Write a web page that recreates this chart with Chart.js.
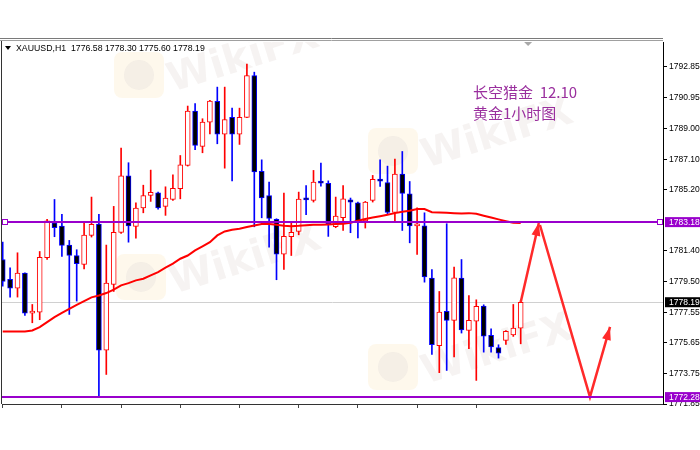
<!DOCTYPE html>
<html>
<head>
<meta charset="utf-8">
<script src="https://cdn.jsdelivr.net/npm/chart.js@4.4.0/dist/chart.umd.min.js"></script>
<style>
  html, body { margin: 0; padding: 0; background: #fff; }
  canvas { display: block; }
</style>
</head>
<body>
<canvas id="chart" width="700" height="450"></canvas>
<script>
// XAUUSD H1 candles (oldest first)
const opens = [1780.85, 1779.61, 1779.07, 1780.00, 1777.51, 1777.57, 1780.96, 1783.14, 1782.93, 1781.75,
  1781.10, 1780.54, 1782.35, 1783.06, 1775.21, 1779.30, 1782.54, 1786.07, 1782.91, 1784.07,
  1784.84, 1785.01, 1784.16, 1784.59, 1785.26, 1786.71, 1790.09, 1787.89, 1789.41, 1790.70,
  1788.66, 1789.70, 1788.66, 1789.70, 1792.31, 1786.34, 1784.84, 1783.35, 1781.19, 1782.27,
  1782.60, 1784.63, 1784.53, 1785.67, 1785.59, 1782.89, 1783.45, 1784.57, 1784.38, 1783.26,
  1784.53, 1785.84, 1785.65, 1783.78, 1786.17, 1784.94, 1782.95, 1782.95, 1779.69, 1775.48,
  1777.62, 1777.06, 1779.69, 1776.43, 1777.01, 1777.95, 1776.12, 1775.37, 1775.81, 1776.16,
  1776.58];
const highs = [1781.93, 1780.34, 1781.27, 1780.02, 1778.05, 1781.35, 1783.35, 1784.59, 1783.66, 1782.04,
  1781.46, 1783.14, 1784.74, 1783.66, 1781.75, 1784.16, 1787.79, 1786.88, 1784.38, 1785.48,
  1786.42, 1785.05, 1785.38, 1786.13, 1787.33, 1790.41, 1790.57, 1789.62, 1790.76, 1791.59,
  1791.59, 1790.28, 1790.28, 1793.02, 1792.52, 1787.06, 1785.67, 1783.39, 1784.99, 1783.14,
  1785.05, 1785.46, 1786.40, 1786.86, 1785.75, 1784.74, 1785.46, 1784.68, 1784.43, 1784.47,
  1786.09, 1787.06, 1786.67, 1787.10, 1787.58, 1785.71, 1784.07, 1783.76, 1780.23, 1778.86,
  1783.08, 1780.38, 1780.85, 1778.61, 1778.34, 1778.03, 1776.54, 1775.54, 1776.43, 1778.05,
  1778.30];
const lows = [1779.19, 1778.51, 1778.51, 1777.37, 1776.91, 1777.10, 1780.85, 1782.27, 1781.04, 1777.43,
  1778.26, 1780.27, 1782.25, 1772.32, 1773.69, 1778.86, 1782.47, 1781.93, 1782.18, 1783.76,
  1784.47, 1783.99, 1783.60, 1784.53, 1784.63, 1786.67, 1787.70, 1787.50, 1788.68, 1788.06,
  1786.54, 1785.75, 1788.02, 1789.68, 1782.89, 1783.45, 1781.62, 1779.59, 1780.23, 1781.10,
  1782.39, 1783.64, 1784.43, 1785.42, 1782.29, 1782.83, 1782.66, 1782.52, 1782.20, 1782.81,
  1784.43, 1785.40, 1783.66, 1783.18, 1782.66, 1781.89, 1781.17, 1779.44, 1774.94, 1773.80,
  1773.94, 1774.79, 1776.27, 1775.29, 1773.32, 1775.08, 1775.08, 1774.71, 1775.56, 1776.06,
  1775.60];
const closes = [1779.48, 1779.07, 1780.00, 1777.51, 1777.59, 1780.98, 1783.26, 1782.83, 1781.73, 1781.10,
  1780.59, 1782.37, 1783.04, 1775.21, 1779.38, 1782.54, 1786.07, 1782.95, 1784.05, 1784.84,
  1785.03, 1784.07, 1784.68, 1785.28, 1786.75, 1790.09, 1787.95, 1789.41, 1790.72, 1788.66,
  1789.57, 1788.66, 1789.70, 1792.31, 1786.30, 1784.68, 1783.41, 1781.19, 1782.29, 1782.54,
  1784.61, 1784.57, 1785.67, 1785.61, 1783.08, 1783.55, 1784.63, 1784.43, 1783.26, 1784.43,
  1785.84, 1785.73, 1783.78, 1786.17, 1784.96, 1782.95, 1783.01, 1779.76, 1775.54, 1777.57,
  1777.06, 1779.71, 1776.47, 1777.06, 1777.93, 1776.08, 1775.40, 1775.02, 1776.37, 1776.58,
  1778.19];
// red moving average, as drawn
const maValues = [1776.37, 1776.37, 1776.37, 1776.37, 1776.43, 1776.64, 1776.95, 1777.26, 1777.53, 1777.78,
  1778.03, 1778.26, 1778.49, 1778.61, 1778.76, 1778.97, 1779.24, 1779.38, 1779.55, 1779.65,
  1779.86, 1780.07, 1780.34, 1780.59, 1780.90, 1781.10, 1781.42, 1781.67, 1781.93, 1782.35,
  1782.60, 1782.70, 1782.77, 1782.87, 1782.97, 1783.06, 1783.06, 1783.01, 1782.95, 1782.93,
  1782.95, 1782.99, 1783.01, 1783.01, 1783.03, 1783.06, 1783.08, 1783.14, 1783.26, 1783.37,
  1783.47, 1783.55, 1783.64, 1783.74, 1783.82, 1783.89, 1783.99, 1783.99, 1783.80, 1783.78,
  1783.76, 1783.74, 1783.72, 1783.74, 1783.70, 1783.58, 1783.47, 1783.35, 1783.24, 1783.14,
  1783.12];

const yTickValues = [1792.85, 1790.95, 1789.00, 1787.10, 1785.20, 1781.40, 1779.50, 1777.55, 1775.65, 1773.75, 1771.85];
const xTickBars = [1, 9, 17, 25, 33, 41, 49, 57, 65];
const levelPrices = [1783.18, 1772.28];
const bidPrice = 1778.19;
// hand drawn forecast arrows (bar index, price)
const arrowUpX = [71.0, 73.45];
const arrowUpY = [1778.19, 1783.13];
const arrowDownX = [73.6, 80.36, 83.07];
const arrowDownY = [1783.0, 1772.29, 1776.65];

const titleText = 'XAUUSD,H1  1776.58 1778.30 1775.60 1778.19';
const noteLines = ['长空猎金  12.10', '黄金1小时图'];

const bars = opens.map((_, i) => i + 1);
const isBull = opens.map((o, i) => closes[i] >= o);
const RED = '#ff0000', BLUE = '#0000ff', VIOLET = '#9900cc';
const axisFont = { family: 'Liberation Sans, Arial, sans-serif', size: 8.5 };

function drawArrowHead(ctx, x0, y0, x1, y1, len, half) {
  const a = Math.atan2(y1 - y0, x1 - x0);
  ctx.beginPath();
  ctx.moveTo(x1, y1);
  ctx.lineTo(x1 - len * Math.cos(a) + half * Math.sin(a), y1 - len * Math.sin(a) - half * Math.cos(a));
  ctx.lineTo(x1 - len * Math.cos(a) - half * Math.sin(a), y1 - len * Math.sin(a) + half * Math.cos(a));
  ctx.closePath();
  ctx.fill();
}

function watermark(ctx, lx, ly) {
  ctx.save();
  ctx.fillStyle = 'rgba(250, 225, 170, 0.22)';
  ctx.beginPath();
  ctx.roundRect(lx, ly, 50, 46, 8);
  ctx.fill();
  ctx.fillStyle = 'rgba(200, 195, 200, 0.18)';
  ctx.beginPath();
  ctx.arc(lx + 25, ly + 23, 15, 0, Math.PI * 2);
  ctx.fill();
  ctx.translate(lx + 58, ly + 40);
  ctx.rotate(-0.3);
  ctx.font = 'bold 40px "DejaVu Sans", sans-serif';
  ctx.fillStyle = 'rgba(215, 200, 195, 0.22)';
  ctx.fillText('WikiFX', 0, 0);
  ctx.restore();
}

const extras = {
  id: 'extras',
  beforeDatasetsDraw(chart) {
    const { ctx, chartArea: a, scales: { x, y } } = chart;
    ctx.save();
    ctx.beginPath();
    ctx.rect(a.left, a.top, a.right - a.left, a.bottom - a.top);
    ctx.clip();
    watermark(ctx, 114, 52);
    watermark(ctx, 368, 128);
    watermark(ctx, 116, 254);
    watermark(ctx, 368, 344);
    // bid line
    const by = Math.round(y.getPixelForValue(bidPrice)) + 0.5;
    ctx.strokeStyle = '#d0d0d0';
    ctx.lineWidth = 1;
    ctx.beginPath();
    ctx.moveTo(a.left, by);
    ctx.lineTo(a.right, by);
    ctx.stroke();
    ctx.restore();
  },
  afterDatasetsDraw(chart) {
    const { ctx, chartArea: a, scales: { x, y } } = chart;
    ctx.save();
    // horizontal levels
    ctx.strokeStyle = VIOLET;
    ctx.lineWidth = 2;
    levelPrices.forEach((p) => {
      const py = Math.round(y.getPixelForValue(p));
      ctx.beginPath();
      ctx.moveTo(a.left, py);
      ctx.lineTo(a.right, py);
      ctx.stroke();
    });
    // selection squares on first level
    const sy = Math.round(y.getPixelForValue(levelPrices[0]));
    ctx.lineWidth = 1;
    ctx.fillStyle = '#fff';
    [a.left + 3, a.right - 3].forEach((sx) => {
      ctx.fillRect(sx - 2.5, sy - 2.5, 5, 5);
      ctx.strokeRect(sx - 2.5, sy - 2.5, 5, 5);
    });
    // arrow heads
    ctx.fillStyle = '#ff2a2a';
    const up = [arrowUpX, arrowUpY], dn = [arrowDownX, arrowDownY];
    [up, dn].forEach(([xs, ys]) => {
      const n = xs.length;
      drawArrowHead(ctx,
        x.getPixelForValue(xs[n - 2]), y.getPixelForValue(ys[n - 2]),
        x.getPixelForValue(xs[n - 1]), y.getPixelForValue(ys[n - 1]), 13, 4.5);
    });
    // text note
    ctx.fillStyle = '#9a2f9e';
    ctx.font = '15px "Noto Sans CJK SC", sans-serif';
    ctx.textBaseline = 'middle';
    ctx.fillText(noteLines[0], 473, 92);
    ctx.fillText(noteLines[1], 473, 113);
    ctx.restore();
  },
  afterDraw(chart) {
    const { ctx, chartArea: a, scales: { x, y } } = chart;
    ctx.save();
    // frame
    ctx.lineWidth = 1;
    ctx.strokeStyle = '#7a7a7a';
    ctx.beginPath();
    ctx.moveTo(0, a.top - 3.5); ctx.lineTo(a.right, a.top - 3.5);
    ctx.stroke();
    ctx.strokeStyle = '#a0a0a0';
    ctx.beginPath();
    ctx.moveTo(0, a.top - 1.5); ctx.lineTo(a.right, a.top - 1.5);
    ctx.stroke();
    ctx.strokeStyle = '#333';
    ctx.beginPath();
    ctx.moveTo(a.left - 0.5, a.top - 1); ctx.lineTo(a.left - 0.5, a.bottom);
    ctx.stroke();
    // chart shift marker
    const tx = x.getPixelForValue(72);
    ctx.fillStyle = '#a8a8a8';
    ctx.beginPath();
    ctx.moveTo(tx - 4, a.top); ctx.lineTo(tx + 4, a.top); ctx.lineTo(tx, a.top + 4);
    ctx.closePath(); ctx.fill();
    // title
    ctx.fillStyle = '#000';
    ctx.beginPath();
    ctx.moveTo(5, 46); ctx.lineTo(11, 46); ctx.lineTo(8, 50);
    ctx.closePath(); ctx.fill();
    ctx.font = '8.75px "Liberation Sans", Arial, sans-serif';
    ctx.textBaseline = 'middle';
    ctx.fillText(titleText, 16, 48.5);
    // price boxes on the axis
    const boxes = [[levelPrices[0], VIOLET], [bidPrice, '#000'], [levelPrices[1], VIOLET]];
    ctx.font = '8.5px "Liberation Sans", Arial, sans-serif';
    boxes.forEach(([p, c]) => {
      const py = y.getPixelForValue(p);
      ctx.fillStyle = c;
      ctx.fillRect(a.right + 2, py - 5, 700 - a.right - 2, 10);
      ctx.fillStyle = '#fff';
      ctx.fillText(p.toFixed(2), a.right + 6, py + 0.5);
    });
    ctx.restore();
  }
};

const ctx = document.getElementById('chart').getContext('2d');

const chart = new Chart(ctx, {
  type: 'bar',
  data: {
    datasets: [
      {
        type: 'line',
        data: arrowUpX.map((v, i) => ({ x: v, y: arrowUpY[i] })),
        borderColor: '#ff2a2a',
        borderWidth: 2.5,
        pointRadius: 0,
        order: 0,
      },
      {
        type: 'line',
        data: arrowDownX.map((v, i) => ({ x: v, y: arrowDownY[i] })),
        borderColor: '#ff2a2a',
        borderWidth: 2.5,
        pointRadius: 0,
        order: 0,
      },
      {
        type: 'line',
        data: bars.map((b, i) => ({ x: b, y: maValues[i] })),
        borderColor: RED,
        borderWidth: 2,
        pointRadius: 0,
        order: 1,
      },
      {
        data: bars.map((b, i) => ({ x: b, y: [opens[i], closes[i]] })),
        backgroundColor: isBull.map((u) => (u ? '#ffffff' : '#000000')),
        borderColor: isBull.map((u) => (u ? RED : BLUE)),
        borderWidth: 1,
        borderSkipped: false,
        grouped: false,
        barThickness: 5,
        maxBarThickness: 5,
        minBarLength: 2,
        order: 2,
      },
      {
        data: bars.map((b, i) => ({ x: b, y: [lows[i], highs[i]] })),
        backgroundColor: isBull.map((u) => (u ? RED : BLUE)),
        borderWidth: 0,
        grouped: false,
        barThickness: 1,
        maxBarThickness: 1,
        order: 3,
      },
    ],
  },
  options: {
    responsive: false,
    animation: false,
    devicePixelRatio: 1,
    layout: { padding: { top: 42, left: 2, right: 0, bottom: 0 } },
    plugins: { legend: { display: false }, tooltip: { enabled: false } },
    scales: {
      x: {
        type: 'linear',
        min: 0.905,
        max: 90.23,
        offset: false,
        afterBuildTicks: (s) => { s.ticks = xTickBars.map((v) => ({ value: v })); },
        afterFit: (s) => { s.height = 46; },
        ticks: { display: false },
        grid: { offset: false, drawOnChartArea: false, tickLength: 4, color: '#444' },
        border: { color: '#333' },
      },
      y: {
        position: 'right',
        min: 1771.85,
        max: 1794.4,
        afterBuildTicks: (s) => { s.ticks = yTickValues.map((v) => ({ value: v })); },
        afterFit: (s) => { s.width = 37; },
        ticks: {
          callback: (v) => Number(v).toFixed(2),
          font: axisFont,
          color: '#000',
          padding: 2,
        },
        grid: { drawOnChartArea: false, tickLength: 4, color: '#000' },
        border: { color: '#000' },
      },
    },
  },
  plugins: [extras],
});
</script>
</body>
</html>
